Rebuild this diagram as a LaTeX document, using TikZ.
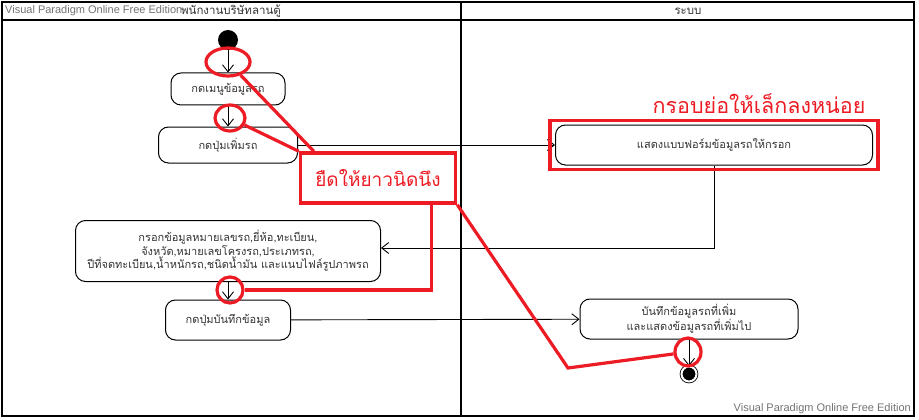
\documentclass[tikz,border=0pt]{standalone}
\usepackage{fontspec}
\setmainfont{Liberation Sans}
\newfontfamily\thaifont[Script=Thai]{Loma}
\usetikzlibrary{arrows.meta}
\usetikzlibrary{positioning}
\usetikzlibrary{calc}
\usetikzlibrary{fit}
\usetikzlibrary{shapes.geometric}
\tikzset{lane/.style={draw,line width=1.6pt}}
\tikzset{lane title/.style={font=\thaifont\fontsize{11.5}{13}\selectfont,text=black!80}}
\tikzset{watermark/.style={font=\fontsize{11}{13}\selectfont,text=black!55,inner sep=0pt}}
\tikzset{action/.style={draw,
                        line width=1pt,
                        rounded corners=10pt,
                        align=center,
                        text=black!80,
                        font=\thaifont\fontsize{11}{13.5}\selectfont}}
\tikzset{flow/.style={draw,line width=0.9pt,-{Straight Barb[length=7pt,width=11pt]}}}
\tikzset{note/.style={draw=notered,line width=3.2pt}}
\definecolor{notered}{RGB}{237,28,36}

\begin{document}
\begin{tikzpicture}
      [
      x=1pt,y=-1pt,
      start/.style={circle,fill=black,minimum size=20pt,inner sep=0pt},
      final/.style={circle,draw,fill=black,line width=0.8pt,double=white,
      double distance=2pt,minimum size=15pt,inner sep=0pt},
      mark ring/.style={ellipse,draw=notered,line width=3.2pt,inner sep=0pt},
      ]
      \useasboundingbox (0,0) rectangle (919,420);

      % swimlanes
      \draw [lane] (2,2) rectangle (914,416);
      \draw [lane] (2,20) -- (914,20);
      \draw [lane] (461,2) -- (461,416);
      \node [lane title] (L1) at (231,11) {พนักงานบริษัทลานตู้};
      \node [lane title] (L2) at (688,11) {ระบบ};
      \node [watermark,anchor=west] (W1) at (5,11) {Visual Paradigm Online Free Edition};
      \node [watermark,anchor=east] (W2) at (911,409) {Visual Paradigm Online Free Edition};

      % actions
      \node [action,minimum width=114pt,minimum height=32pt] (A1) at (228,89) {กดเมนูข้อมูลรถ};
      \node [action,minimum width=139pt,minimum height=36pt] (A2) at (228,145) {กดปุ่มเพิ่มรถ};
      \node [action,minimum width=317pt,minimum height=40pt] (A3) at (714,145) {แสดงแบบฟอร์มข้อมูลรถให้กรอก};
      \node [action,minimum width=305pt,minimum height=61pt,inner sep=2pt] (A4) at (228,251)
      {กรอกข้อมูลหมายเลขรถ,ยี่ห้อ,ทะเบียน,\\จังหวัด,หมายเลขโครงรถ,ประเภทรถ,\\ปีที่จดทะเบียน,น้ำหนักรถ,ชนิดน้ำมัน และแนบไฟล์รูปภาพรถ};
      \node [action,minimum width=125pt,minimum height=40pt] (A5) at (228,320) {กดปุ่มบันทึกข้อมูล};
      \node [action,minimum width=218pt,minimum height=40pt,inner sep=2pt] (A6) at (689,319)
      {บันทึกข้อมูลรถที่เพิ่ม\\และแสดงข้อมูลรถที่เพิ่มไป};
      \node [start] (S) at (228,40) {};
      \node [final] (E) at (689,374) {};

      % edges
      \draw [flow] (S) -- (A1);
      \draw [flow] (A1) -- (A2);
      \draw [flow] (A2) -- (A3);
      \draw [flow] (A3.south) |- ($(A4.east)+(0,-3)$);
      \draw [flow] (A4) -- (A5);
      \draw [flow] (A5) -- (A6);
      \draw [flow] (A6) -- (E);

      % review notes
      \node [mark ring,minimum width=44pt,minimum height=28pt] (C1) at (228,62) {};
      \node [mark ring,minimum width=30pt,minimum height=26pt] (C2) at (230,118) {};
      \node [mark ring,minimum width=26pt,minimum height=26pt] (C3) at (230,290) {};
      \node [mark ring,minimum width=26pt,minimum height=28pt] (C4) at (688,352) {};
      \node [draw=notered,line width=3.5pt,minimum width=155pt,minimum height=50pt,
      text=notered,font=\thaifont\fontsize{19}{22}\selectfont] (N1) at (378,178) {ยืดให้ยาวนิดนึง};
      \node [draw=notered,line width=3.5pt,fit=(A3),inner xsep=5pt,inner ysep=4pt] (R1) {};
      \node [text=notered,font=\thaifont\fontsize{21.5}{24}\selectfont] (N2) at (759,104) {กรอบย่อให้เล็กลงหน่อย};
      \coordinate (K1) at (568,368);

      \draw [note] (C1) -- ($(N1.north west)+(15,0)$);
      \draw [note] (C2) -- (N1.north west);
      \draw [note] ($(N1.south east)+(-26,0)$) |- (C3);
      \draw [note] (N1.south east) -- (K1) -- (C4);

    \end{tikzpicture}
\end{document}
